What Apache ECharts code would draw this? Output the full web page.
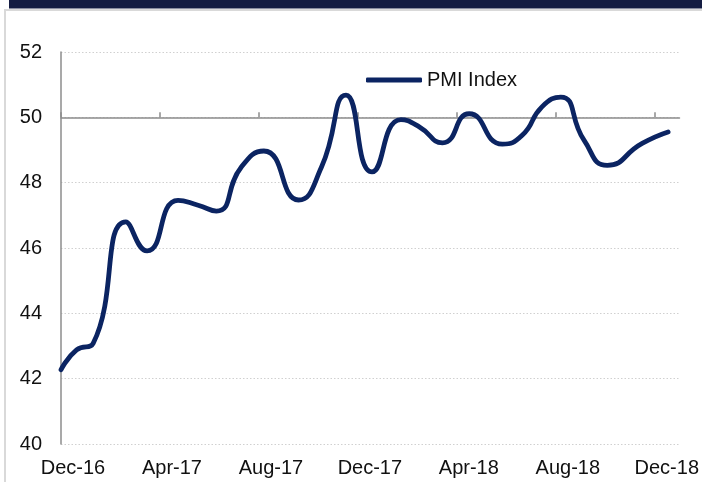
<!DOCTYPE html>
<html>
<head>
    <meta charset="utf-8">
    <title>PMI Index</title>
    <script src="https://cdn.jsdelivr.net/npm/echarts@6/dist/echarts.min.js"></script>
    <style>
        html, body { margin: 0; padding: 0; background: #fff; }
    </style>
</head>
<body>
    <div id="main" style="width: 702px;height:482px;"></div>
    <script>
        // x position in months from Dec-16
        var monthPos = [0, 0.63, 1.30, 2.62, 3.48, 4.73, 5.54, 6.28, 7.29, 8.20, 9.60, 10.53, 11.52,
            12.57, 13.74, 14.48, 15.42, 16.50, 17.84, 18.64, 19.44, 20.20, 21.14, 22.08, 23.49, 24.54];
        var pmi = [42.27, 42.88, 43.08, 46.80, 45.91, 47.46, 47.31, 47.13, 48.48, 48.97, 47.47, 48.48, 50.68,
            48.33, 49.93, 49.71, 49.22, 50.11, 49.18, 49.45, 50.32, 50.62, 49.30, 48.53, 49.20, 49.55];
        var tickPos = [0, 4, 8, 12, 16, 20, 24];
        var tickLabels = ['Dec-16', 'Apr-17', 'Aug-17', 'Dec-17', 'Apr-18', 'Aug-18', 'Dec-18'];

        var points = [];
        for (var i = 0; i < pmi.length; i++) {
            points.push([monthPos[i], pmi[i]]);
        }

        var font = "'Liberation Sans', Arial, sans-serif";
        var myChart = echarts.init(document.getElementById('main'));
        var option = {
            animation: false,
            backgroundColor: '#fff',
            graphic: [{
                    type: 'rect',
                    shape: { x: 9, y: 0, width: 693, height: 8.5 },
                    style: { fill: '#141c42' }
                },
                {
                    type: 'polyline',
                    shape: { points: [[5, 482], [5, 10], [702, 10]] },
                    style: { stroke: '#d9d9d9', lineWidth: 2, fill: null }
                }
            ],
            legend: {
                data: ['PMI Index'],
                left: 361,
                top: 65,
                icon: 'roundRect',
                itemWidth: 56,
                itemHeight: 5,
                textStyle: {
                    fontFamily: font,
                    fontSize: 20,
                    color: '#111'
                }
            },
            grid: {
                left: 61,
                top: 52,
                width: 620,
                height: 392
            },
            xAxis: [{
                    type: 'value',
                    min: 0,
                    max: 25,
                    position: 'bottom',
                    axisLine: { show: false },
                    axisTick: { show: false },
                    splitLine: { show: false },
                    axisLabel: {
                        customValues: tickPos,
                        margin: 14,
                        padding: [0, 0, 0, 24],
                        fontFamily: font,
                        fontSize: 20,
                        color: '#111',
                        formatter: function(v) {
                            return tickLabels[Math.round(v / 4)];
                        }
                    }
                },
                {
                    // axis line drawn across at 50
                    type: 'value',
                    min: 0,
                    max: 25,
                    position: 'bottom',
                    offset: -326.7,
                    axisLine: { lineStyle: { color: '#8c8c8c', width: 1.5 } },
                    axisTick: {
                        customValues: tickPos,
                        inside: true,
                        length: 5,
                        lineStyle: { color: '#8c8c8c', width: 1.5 }
                    },
                    axisLabel: { show: false },
                    splitLine: { show: false }
                }
            ],
            yAxis: {
                type: 'value',
                min: 40,
                max: 52,
                interval: 2,
                axisLine: { show: true, lineStyle: { color: '#8c8c8c', width: 1.5 } },
                axisTick: { show: false },
                axisLabel: {
                    margin: 19,
                    fontFamily: font,
                    fontSize: 20,
                    color: '#111'
                },
                splitLine: {
                    lineStyle: { color: '#d0d0d0', width: 1, type: [1.5, 2] }
                }
            },
            series: [{
                name: 'PMI Index',
                type: 'line',
                data: points,
                smooth: 0.55,
                symbol: 'none',
                color: '#0b2462',
                lineStyle: {
                    width: 4.8,
                    cap: 'round',
                    join: 'round'
                }
            }]
        };
        myChart.setOption(option);
    </script>
</body>
</html>
